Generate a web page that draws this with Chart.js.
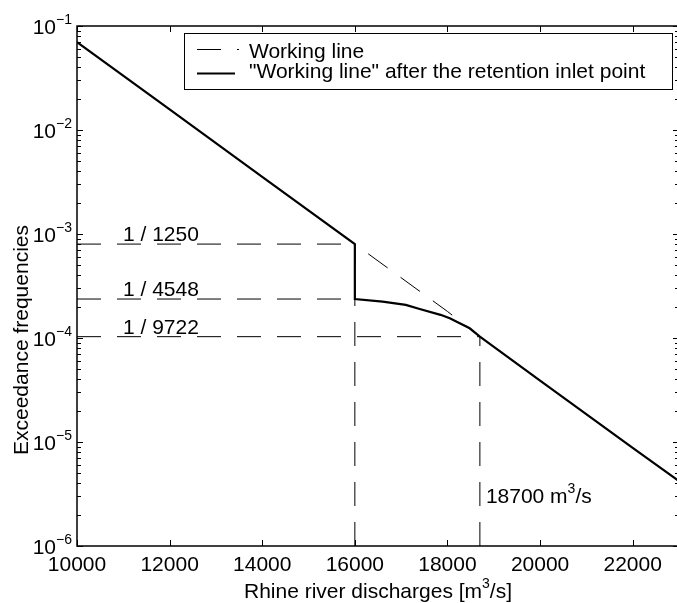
<!DOCTYPE html>
<html>
<head>
<meta charset="utf-8">
<script src="https://cdn.jsdelivr.net/npm/chart.js@4"></script>
<style>
  html, body { margin: 0; padding: 0; background: #fff; overflow: hidden; }
  #wrap { width: 681px; height: 603px; }
</style>
</head>
<body>
<div id="wrap"><canvas id="chart" width="681" height="603"></canvas></div>
<script>
// ── Data ──────────────────────────────────────────────────────────────────────
const X_MIN = 10000, X_MAX = 23000;
const Y_MIN = 1e-6,  Y_MAX = 1e-1;

const xTicks    = [10000, 12000, 14000, 16000, 18000, 20000, 22000];
const yDecades  = [-1, -2, -3, -4, -5, -6];

// working line (dashed)
const workQ = [10000, 12000, 14000, 16000, 18000, 18700, 20000, 22000, 23000];
const workF = [7.0e-2, 1.58e-2, 3.55e-3, 8.0e-4, 1.80e-4, 1.03e-4, 3.9e-5, 8.8e-6, 4.2e-6];

// "working line" after the retention inlet point (solid)
const retQ = [10000, 12000, 14000, 16000, 16000, 16600, 17100, 17400, 17850, 18050, 18480, 18700, 20000, 22000, 23000];
const retF = [7.0e-2, 1.58e-2, 3.55e-3, 8.0e-4, 2.37e-4, 2.24e-4, 2.08e-4, 1.90e-4, 1.67e-4, 1.55e-4, 1.24e-4, 1.03e-4, 3.9e-5, 8.8e-6, 4.2e-6];

// helper lines
const refLabels = ['1 / 1250', '1 / 4548', '1 / 9722'];
const refFreq   = [8.0e-4, 2.37e-4, 1.03e-4];
const refQ      = [16000, 16000, 18700];
const vertQ     = [16000, 18700];
const vertTop   = [8.0e-4, 1.03e-4];

const legendLabels = ['Working line', '"Working line" after the retention inlet point'];

// ── Style ─────────────────────────────────────────────────────────────────────
const FONT = '"Liberation Sans", Arial, sans-serif';
const FS = 21, FS_SUP = 14;
const DASH = [24, 16];

const pts = (xs, ys) => xs.map((x, i) => ({ x, y: ys[i] }));

const datasets = [
  { data: pts(retQ, retF), borderColor: '#000', borderWidth: 2.2 },
  { data: pts(workQ, workF), borderColor: '#000', borderWidth: 1, borderDash: DASH },
];
refFreq.forEach((f, i) => {
  datasets.push({ data: [{ x: X_MIN, y: f }, { x: refQ[i], y: f }],
                  borderColor: '#000', borderWidth: 1, borderDash: DASH });
});
vertQ.forEach((q, i) => {
  datasets.push({ data: [{ x: q, y: Y_MIN }, { x: q, y: vertTop[i] }],
                  borderColor: '#000', borderWidth: 1, borderDash: DASH });
});

// draw text made of normal and superscript parts
function richText(ctx, parts, x, y, align) {
  let w = 0;
  parts.forEach(p => {
    ctx.font = `${p.sup ? FS_SUP : FS}px ${FONT}`;
    p.w = ctx.measureText(p.t).width;
    w += p.w;
  });
  let cx = align === 'right' ? x - w : align === 'center' ? x - w / 2 : x;
  ctx.textAlign = 'left';
  ctx.textBaseline = 'alphabetic';
  parts.forEach(p => {
    ctx.font = `${p.sup ? FS_SUP : FS}px ${FONT}`;
    ctx.fillText(p.t, cx, p.sup ? y - 10 : y);
    cx += p.w;
  });
}

// ── Axes box, ticks, labels, annotations, legend ─────────────────────────────
const framePlugin = {
  id: 'frame',
  afterDraw(chart) {
    const ctx = chart.ctx;
    const xs = chart.scales.x, ys = chart.scales.y;
    const a = chart.chartArea;
    ctx.save();
    ctx.strokeStyle = '#000';
    ctx.fillStyle = '#000';
    ctx.setLineDash([]);

    // box
    ctx.lineWidth = 1.5;
    ctx.strokeRect(a.left, a.top, a.right - a.left, a.bottom - a.top);

    // x ticks (inward, top & bottom)
    ctx.lineWidth = 1;
    ctx.beginPath();
    xTicks.concat([X_MAX]).forEach(v => {
      const px = Math.round(xs.getPixelForValue(v)) + 0.5;
      ctx.moveTo(px, a.bottom); ctx.lineTo(px, a.bottom - 6);
      ctx.moveTo(px, a.top);    ctx.lineTo(px, a.top + 6);
    });
    // y ticks (major + minor, left & right)
    yDecades.forEach(e => {
      for (let m = 1; m <= 9; m++) {
        const v = m * Math.pow(10, e);
        if (v > Y_MAX * 1.0001) continue;
        const py = Math.round(ys.getPixelForValue(v)) + 0.5;
        const len = m === 1 ? 6 : 4;
        ctx.moveTo(a.left, py);  ctx.lineTo(a.left + len, py);
        ctx.moveTo(a.right, py); ctx.lineTo(a.right - len, py);
      }
    });
    ctx.stroke();

    // x tick labels
    ctx.font = `${FS}px ${FONT}`;
    ctx.textAlign = 'center';
    ctx.textBaseline = 'alphabetic';
    xTicks.forEach(v => ctx.fillText(String(v), xs.getPixelForValue(v), a.bottom + 25));

    // y tick labels 10^-n
    yDecades.forEach(e => {
      const py = ys.getPixelForValue(Math.pow(10, e));
      richText(ctx, [{ t: '10' }, { t: '\u2212' + Math.abs(e), sup: true }], a.left - 5, py + 8, 'right');
    });

    // axis titles
    richText(ctx, [{ t: 'Rhine river discharges [m' }, { t: '3', sup: true }, { t: '/s]' }],
             (a.left + a.right) / 2, a.bottom + 52, 'center');
    ctx.save();
    ctx.translate(28, 340);
    ctx.rotate(-Math.PI / 2);
    ctx.font = `${FS}px ${FONT}`;
    ctx.textAlign = 'center';
    ctx.fillText('Exceedance frequencies', 0, 0);
    ctx.restore();

    // annotations
    refLabels.forEach((t, i) => {
      ctx.font = `${FS}px ${FONT}`;
      ctx.textAlign = 'left';
      ctx.fillText(t, xs.getPixelForValue(X_MIN) + 46, ys.getPixelForValue(refFreq[i]) - 3);
    });
    richText(ctx, [{ t: '18700 m' }, { t: '3', sup: true }, { t: '/s' }],
             xs.getPixelForValue(vertQ[1]) + 6, a.bottom - 43, 'left');

    // legend
    const lx = 184.5, ly = 33.5, lw = 488, lh = 56;
    ctx.fillStyle = '#fff';
    ctx.fillRect(lx, ly, lw, lh);
    ctx.lineWidth = 1;
    ctx.strokeRect(lx, ly, lw, lh);
    ctx.fillStyle = '#000';
    ctx.beginPath();
    ctx.setLineDash(DASH);
    ctx.moveTo(197, 49.5); ctx.lineTo(239, 49.5);
    ctx.stroke();
    ctx.setLineDash([]);
    ctx.lineWidth = 2.2;
    ctx.beginPath();
    ctx.moveTo(197, 73.5); ctx.lineTo(235, 73.5);
    ctx.stroke();
    ctx.font = `${FS}px ${FONT}`;
    ctx.textAlign = 'left';
    ctx.fillText(legendLabels[0], 249, 57.5);
    ctx.fillText(legendLabels[1], 249, 78);

    ctx.restore();
  }
};

new Chart(document.getElementById('chart'), {
  type: 'line',
  data: { datasets },
  options: {
    responsive: false,
    animation: false,
    devicePixelRatio: 1,
    parsing: true,
    elements: { point: { radius: 0 }, line: { tension: 0 } },
    layout: { padding: { left: 77, top: 26, right: 2, bottom: 57 } },
    plugins: { legend: { display: false }, tooltip: { enabled: false } },
    scales: {
      x: { type: 'linear', min: X_MIN, max: X_MAX, display: false },
      y: { type: 'logarithmic', min: Y_MIN, max: Y_MAX, display: false },
    },
  },
  plugins: [framePlugin],
});
</script>
</body>
</html>
